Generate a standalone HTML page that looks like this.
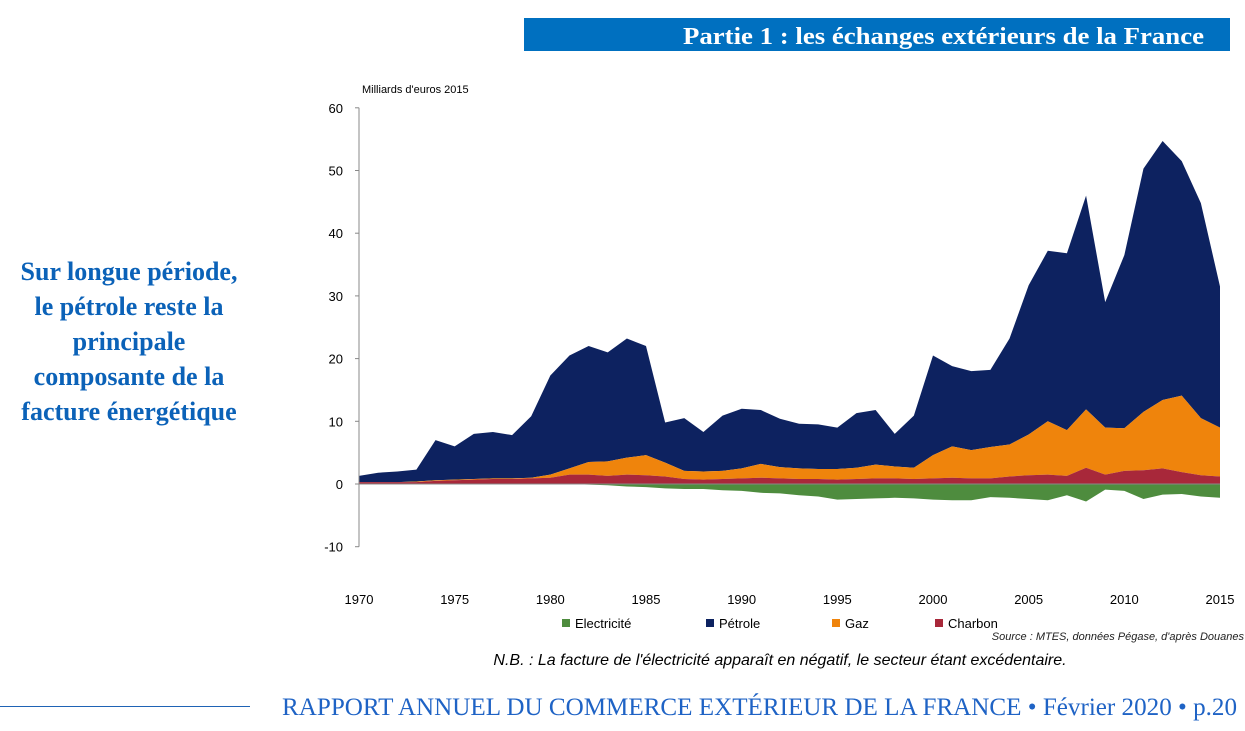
<!DOCTYPE html>
<html><head><meta charset="utf-8"><style>
body{margin:0;width:1245px;height:731px;background:#fff;position:relative;overflow:hidden;font-family:"Liberation Sans",sans-serif}
.banner{position:absolute;left:524px;top:18px;width:706px;height:33px;background:#0070c0}
.side{position:absolute;left:0;top:254px;width:258px;text-align:center;color:#0b62b8;font-weight:bold;font-family:"Liberation Serif",serif;font-size:26px;line-height:35px}
.nb{position:absolute;left:300px;top:652px;width:960px;text-align:center;font-style:italic;font-size:16px}
.fline{position:absolute;left:0;top:706px;width:250px;height:1px;background:#1f63b5}
</style></head><body>
<div class="banner"></div>
<div class="side">Sur longue période,<br>le pétrole reste la<br>principale<br>composante de la<br>facture énergétique</div>
<svg id="chart" width="1245" height="731" style="position:absolute;left:0;top:0">
<text x="683" y="44" textLength="521" lengthAdjust="spacingAndGlyphs" font-family="Liberation Serif, serif" font-weight="bold" font-size="24" fill="#fff">Partie 1 :  les échanges extérieurs de la France</text>
<text x="282" y="715" textLength="955" lengthAdjust="spacingAndGlyphs" font-family="Liberation Serif, serif" font-size="25" fill="#1f63c5">RAPPORT ANNUEL DU COMMERCE EXTÉRIEUR DE LA FRANCE • Février 2020  • p.20</text>
</svg>
<div class="nb">N.B. : La facture de l'électricité apparaît en négatif, le secteur étant excédentaire.</div>
<div class="fline"></div>
<script>
const years=[];for(let y=1970;y<=2015;y++)years.push(y);
const charbon=[0.3,0.3,0.3,0.3,0.5,0.6,0.7,0.8,0.8,0.9,1.0,1.5,1.5,1.3,1.5,1.4,1.2,0.8,0.7,0.8,0.9,1.0,0.9,0.8,0.8,0.7,0.8,0.9,0.9,0.8,0.9,1.0,0.9,0.9,1.2,1.4,1.5,1.3,2.6,1.5,2.1,2.2,2.5,1.9,1.4,1.2];
const gaz=[0,0,0,0.1,0.1,0.1,0.1,0.1,0.1,0.1,0.5,1.0,2.0,2.3,2.7,3.2,2.2,1.3,1.3,1.3,1.6,2.2,1.8,1.7,1.6,1.7,1.8,2.2,1.9,1.8,3.7,5.0,4.5,5.0,5.1,6.5,8.5,7.3,9.3,7.5,6.8,9.3,10.9,12.2,9.1,7.8];
const petrole=[1.0,1.5,1.7,1.9,6.4,5.3,7.2,7.4,6.9,9.8,15.8,18.0,18.5,17.4,19.0,17.4,6.4,8.4,6.3,8.8,9.5,8.6,7.7,7.1,7.1,6.6,8.7,8.7,5.2,8.3,15.9,12.8,12.6,12.3,16.9,23.8,27.2,28.2,34.1,20.0,27.6,38.8,41.3,37.4,34.3,22.5];
const electricite=[0,0,0,0,0,0,0,0,0,0,0,0,-0.1,-0.2,-0.4,-0.5,-0.7,-0.8,-0.8,-1.0,-1.1,-1.4,-1.5,-1.8,-2.0,-2.5,-2.4,-2.3,-2.2,-2.3,-2.5,-2.6,-2.6,-2.1,-2.2,-2.4,-2.6,-1.8,-2.8,-0.9,-1.1,-2.4,-1.7,-1.6,-2.0,-2.2];
const yTicks=[60,50,40,30,20,10,0,-10];
const xTicks=[1970,1975,1980,1985,1990,1995,2000,2005,2010,2015];
const NS='http://www.w3.org/2000/svg',svg=document.getElementById('chart');
const X=y=>359+(y-1970)*(1220-359)/45, Y=v=>484-v*6.27;
function el(t,a,p){const e=document.createElementNS(NS,t);for(const k in a)e.setAttribute(k,a[k]);(p||svg).appendChild(e);return e;}
function area(lo,hi,color,name){let d='M'+years.map((y,i)=>X(y)+','+Y(hi[i])).join('L');for(let i=years.length-1;i>=0;i--)d+='L'+X(years[i])+','+Y(lo[i]);
const p=el('path',{d:d+'Z',fill:color});

}
const zero=years.map(()=>0);
const c1=charbon.slice(), c2=c1.map((v,i)=>v+gaz[i]), c3=c2.map((v,i)=>v+petrole[i]);
area(c2,c3,'#0d2260','area-petrole');
area(c1,c2,'#ef840c','area-gaz');
area(zero,c1,'#a8283a','area-charbon');
area(electricite,zero,'#4e8c3e','area-electricite');
el('line',{x1:X(1970),x2:X(1970),y1:Y(60),y2:Y(-10),stroke:'#888'});
el('line',{x1:X(1970),x2:X(2015),y1:Y(0),y2:Y(0),stroke:'#888'});
yTicks.forEach(v=>{el('line',{x1:X(1970)-4,x2:X(1970),y1:Y(v),y2:Y(v),stroke:'#888'});
const t=el('text',{x:343,y:Y(v)+5,'text-anchor':'end','font-size':13,fill:'#000'});t.textContent=v;

});
xTicks.forEach(v=>{const t=el('text',{x:X(v),y:604,'text-anchor':'middle','font-size':13,fill:'#000'});t.textContent=v;

});
const ut=el('text',{x:362,y:93,'font-size':11,fill:'#000'});ut.textContent="Milliards d'euros 2015";


const leg=[['Electricité','#4e8c3e',562],['Pétrole','#0d2260',706],['Gaz','#ef840c',832],['Charbon','#a8283a',935]];
leg.forEach(l=>{const g=el('g',{});


el('rect',{x:l[2],y:619,width:8,height:8,fill:l[1]},g);const t=el('text',{x:l[2]+13,y:628,'font-size':13},g);t.textContent=l[0];});
const s=el('text',{x:1244,y:640,'text-anchor':'end','font-size':11,'font-style':'italic',fill:'#222'});s.textContent="Source : MTES, données Pégase, d'après Douanes";


</script>
</body></html>
